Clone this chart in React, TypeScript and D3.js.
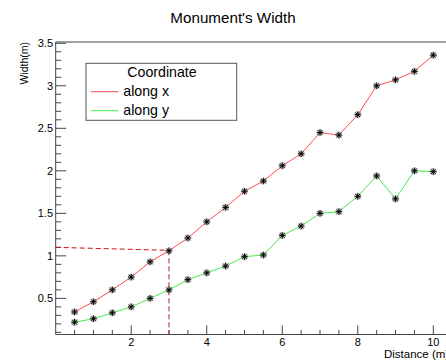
import React from "react";
import * as d3 from "d3";

// Sample positions along the monument (m)
const distances = [0.5, 1, 1.5, 2, 2.5, 3, 3.5, 4, 4.5, 5, 5.5, 6, 6.5, 7, 7.5, 8, 8.5, 9, 9.5, 10];
// Measured width along x (m)
const widthAlongX = [0.34, 0.46, 0.6, 0.75, 0.93, 1.06, 1.21, 1.4, 1.57, 1.76, 1.88, 2.06, 2.2, 2.45, 2.42, 2.66, 3.0, 3.07, 3.17, 3.36];
// Measured width along y (m)
const widthAlongY = [0.22, 0.26, 0.33, 0.4, 0.5, 0.6, 0.72, 0.8, 0.88, 0.99, 1.01, 1.24, 1.35, 1.5, 1.52, 1.7, 1.94, 1.67, 2.0, 1.99];

const xMajorTicks = [2, 4, 6, 8, 10];
const yMajorTicks = [0.5, 1, 1.5, 2, 2.5, 3, 3.5];
const legendLabels = ["along x", "along y"];
const seriesColors = ["#ff4a4a", "#44ee44"];

// Reference guide: read-off point on the "along x" curve
const guideX = 3;
const guideYStart = 1.1;
const guideYEnd = 1.065;

const W = 446;
const H = 361;
const FONT = "'Liberation Sans', Arial, Helvetica, sans-serif";

const left = 55.7;
const top = 42;
const bottom = 334.5;

const x = d3.scaleLinear().domain([0, 10.95]).range([left, left + 10.95 * 37.76]);
const y = d3.scaleLinear().domain([0.075, 3.515]).range([bottom, top]);

function Asterisk({ cx, cy }: { cx: number; cy: number }) {
  const r = 3.2;
  const d = r * 0.72;
  return (
    <g>
      <circle cx={cx} cy={cy} r={3.6} fill="#9a9a9a" opacity={0.55} />
      <line x1={cx - r} y1={cy} x2={cx + r} y2={cy} stroke="#000" strokeWidth={1} />
      <line x1={cx} y1={cy - r} x2={cx} y2={cy + r} stroke="#000" strokeWidth={1} />
      <line x1={cx - d} y1={cy - d} x2={cx + d} y2={cy + d} stroke="#000" strokeWidth={1} />
      <line x1={cx - d} y1={cy + d} x2={cx + d} y2={cy - d} stroke="#000" strokeWidth={1} />
    </g>
  );
}

export default function App() {
  const series = [widthAlongX, widthAlongY];
  const line = d3
    .line<number>()
    .x((_, i) => x(distances[i]))
    .y((v) => y(v));

  const xMinor = d3.range(0.5, 10.51, 0.5).filter((v) => !xMajorTicks.some((m) => Math.abs(m - v) < 1e-6));
  const yMinor = d3.range(0.1, 3.51, 0.1).filter((v) => !yMajorTicks.some((m) => Math.abs(m - v) < 1e-6));

  const axisColor = "#444";

  return (
    <div style={{ position: "absolute", left: 0, top: 0 }}>
      <svg width={W} height={H} style={{ display: "block", background: "#fff" }} fontFamily={FONT}>
        <rect x={0} y={0} width={W} height={H} fill="#fff" />

        {/* title */}
        <text x={233} y={22.7} fontSize={15.2} textAnchor="middle" fill="#000">
          Monument's Width
        </text>

        {/* frame */}
        <line x1={left} y1={top} x2={W} y2={top} stroke={axisColor} strokeWidth={1} />
        <line x1={left} y1={top} x2={left} y2={bottom} stroke={axisColor} strokeWidth={1} />
        <line x1={left} y1={bottom} x2={W} y2={bottom} stroke={axisColor} strokeWidth={1} />

        {/* x ticks */}
        {xMajorTicks.map((t) => (
          <g key={"xm" + t}>
            <line x1={x(t)} x2={x(t)} y1={bottom} y2={bottom - 9} stroke={axisColor} />
            <text x={x(t)} y={345.5} fontSize={11} textAnchor="middle" fill="#000">
              {t}
            </text>
          </g>
        ))}
        {xMinor.map((t) => (
          <line key={"xn" + t} x1={x(t)} x2={x(t)} y1={bottom} y2={bottom - 4.5} stroke={axisColor} />
        ))}

        {/* y ticks */}
        {yMajorTicks.map((t) => (
          <g key={"ym" + t}>
            <line x1={left} x2={left + 10.5} y1={y(t)} y2={y(t)} stroke={axisColor} />
            <text x={53} y={y(t) + 4} fontSize={11} textAnchor="end" fill="#000">
              {t}
            </text>
          </g>
        ))}
        {yMinor.map((t) => (
          <line key={"yn" + t.toFixed(1)} x1={left} x2={left + 5.5} y1={y(t)} y2={y(t)} stroke={axisColor} />
        ))}

        {/* axis titles */}
        <text x={384} y={358} fontSize={11.5} fill="#000">
          Distance (m)
        </text>
        <text
          transform={`translate(27.7, 42) rotate(-90)`}
          fontSize={10.5}
          textAnchor="end"
          fill="#000"
        >
          Width(m)
        </text>

        {/* guide lines */}
        <line
          x1={x(0)}
          y1={y(guideYStart)}
          x2={x(guideX)}
          y2={y(guideYEnd)}
          stroke="#cc1111"
          strokeWidth={1}
          strokeDasharray="5,3"
        />
        <line
          x1={x(guideX)}
          y1={y(guideYEnd)}
          x2={x(guideX)}
          y2={bottom}
          stroke="#cc1111"
          strokeWidth={1}
          strokeDasharray="5,3"
        />

        {/* series lines */}
        {series.map((s, k) => (
          <path key={"l" + k} d={line(s) || ""} fill="none" stroke={seriesColors[k]} strokeWidth={1} />
        ))}
        {/* markers */}
        {series.map((s, k) =>
          s.map((v, i) => <Asterisk key={`m${k}-${i}`} cx={x(distances[i])} cy={y(v)} />)
        )}

        {/* legend */}
        <rect x={86} y={63.3} width={150.7} height={57} fill="#fff" stroke="#555" strokeWidth={1} />
        <text x={162} y={76.7} fontSize={14.2} textAnchor="middle" fill="#000">
          Coordinate
        </text>
        {legendLabels.map((lab, i) => (
          <g key={lab}>
            <line x1={91} x2={118.3} y1={91.7 + i * 19} y2={91.7 + i * 19} stroke={seriesColors[i]} strokeWidth={1} />
            <text x={123.3} y={95.5 + i * 19} fontSize={14.2} fill="#000">
              {lab}
            </text>
          </g>
        ))}
      </svg>
    </div>
  );
}
